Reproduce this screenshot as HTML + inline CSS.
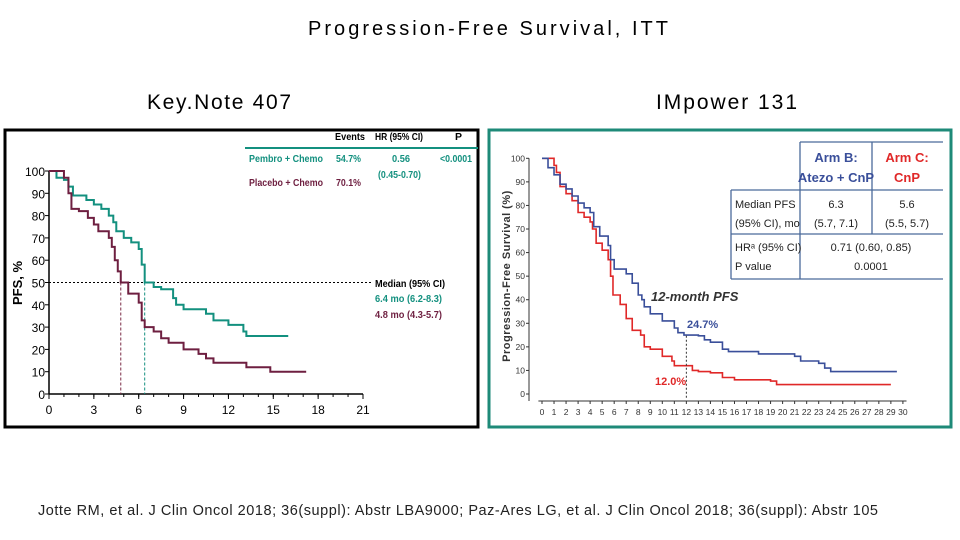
<!DOCTYPE html>
<html><head><meta charset="utf-8"><style>
body{margin:0;background:#fff;width:960px;height:540px;overflow:hidden;font-family:"Liberation Sans",sans-serif}
svg{position:absolute;left:0;top:0}
</style></head><body>
<svg width="960" height="540" viewBox="0 0 960 540" font-family="Liberation Sans, sans-serif">
<text x="308" y="35" font-size="20" textLength="360" lengthAdjust="spacing">Progression-Free Survival, ITT</text>
<text x="147" y="109" font-size="21" textLength="144" lengthAdjust="spacing">Key.Note 407</text>
<text x="656" y="109" font-size="21" textLength="141" lengthAdjust="spacing">IMpower 131</text>
<text x="38" y="515" font-size="14.5" fill="#222" textLength="840" lengthAdjust="spacing">Jotte RM, et al. J Clin Oncol 2018; 36(suppl): Abstr LBA9000; Paz-Ares LG, et al. J Clin Oncol 2018; 36(suppl): Abstr 105</text>

<rect x="5" y="130" width="473" height="297" fill="#fff" stroke="#000" stroke-width="3"/>
<rect x="489" y="130" width="462" height="297" fill="#fff" stroke="#1e8a78" stroke-width="3"/>
<g id="L"></g>
<g id="R"></g>
</svg>
<script>
// KEYNOTE 407 data
const kMonths1=[0,0.5,1,1.3,1.6,2.5,3,3.5,4,4.3,4.5,5,5.5,6,6.2,6.4,7,7.5,8.3,8.5,9,10,10.5,11,12,13,13.2,16];
const kPembro=[100,97,96,93,89,87,85,83,80,77,73,70,68,65,58,50,48,47,43,40,38,38,36,33,31,28,26,26];
const kMonths2=[0,1,1.3,1.5,2,2.6,3,3.3,4,4.2,4.4,4.6,4.8,5.3,6,6.2,6.4,7,7.5,8,9,10,10.5,11,13,13.2,14.8,17.2];
const kPlacebo=[100,97,90,83,82,79,76,73,70,66,60,55,50,45,41,33,30,28,25,23,20,18,16,14,14,12,10,10];
const kXTicks=[0,3,6,9,12,15,18,21];
const kYTicks=[0,10,20,30,40,50,60,70,80,90,100];
// IMpower 131 data
const iMonthsB=[0,0.5,1,1.5,2,2.5,3,3.5,4,4.3,4.8,5.5,5.7,6,7,7.5,8,8.3,8.5,9,10,11,11.3,11.8,13,13.5,14,15,15.5,18,21,21.5,23,23.5,24,29.5];
const iArmB=[100,96,93,89,87,84,81,79,77,71,67,63,57,53,51,47,42,40,37,34,31,28,26,25,24.7,23,22,19,18,17,16,14,13,11,9.5,9.5];
const iMonthsC=[0,1,1.2,1.5,2,2.5,3,3.5,4,4.2,4.5,5,5.5,5.7,5.9,6.5,7,7.5,8.2,8.5,9,10,10.8,11,12,12.5,13,14,15,16,19,19.5,29];
const iArmC=[100,97,94,88,85,82,77,75,73,70,64,61,57,50,42,38,32,27,25,20,19,16,14,12,12,10,9.5,9,7,6,5.5,4,4];
const iXTicks=[0,1,2,3,4,5,6,7,8,9,10,11,12,13,14,15,16,17,18,19,20,21,22,23,24,25,26,27,28,29,30];
const iYTicks=[0,10,20,30,40,50,60,70,80,90,100];

const NS="http://www.w3.org/2000/svg";
function mk(parent,tag,attrs,txt){const e=document.createElementNS(NS,tag);for(const k in attrs)e.setAttribute(k,attrs[k]);if(txt!==undefined)e.textContent=txt;parent.appendChild(e);return e;}
function stepPath(xs,ys,sx,sy){let d="M"+sx(xs[0])+","+sy(ys[0]);for(let i=1;i<xs.length;i++){d+="H"+sx(xs[i])+"V"+sy(ys[i]);}return d;}

// Left chart
const L=document.getElementById('L');
const lx=m=>49+m*(314/21), ly=v=>394-v*2.23;
let e;
e=mk(L,'line',{x1:lx(0),y1:ly(0),x2:lx(21),y2:ly(0),stroke:'#000','stroke-width':1.5});

e=mk(L,'line',{x1:lx(0),y1:ly(0),x2:lx(0),y2:ly(100),stroke:'#000','stroke-width':1.5});

kXTicks.forEach(t=>{e=mk(L,'text',{x:lx(t),y:ly(0)+20,'font-size':12,'text-anchor':'middle'},t);

mk(L,'line',{x1:lx(t),y1:ly(0),x2:lx(t),y2:ly(0)+5,stroke:'#000'});});
for(let m=1;m<21;m++)mk(L,'line',{x1:lx(m),y1:ly(0),x2:lx(m),y2:ly(0)+3,stroke:'#000'});
kYTicks.forEach(t=>{e=mk(L,'text',{x:lx(0)-4,y:ly(t)+5,'font-size':12,'text-anchor':'end'},t);

mk(L,'line',{x1:lx(0)-4,y1:ly(t),x2:lx(0),y2:ly(t),stroke:'#000'});});
e=mk(L,'text',{x:22,y:283,'font-size':13,'font-weight':'bold','text-anchor':'middle',transform:'rotate(-90 22 283)'},'PFS, %');

e=mk(L,'line',{x1:lx(0),y1:ly(50),x2:372,y2:ly(50),stroke:'#000','stroke-dasharray':'2,2'});

e=mk(L,'line',{x1:lx(4.8),y1:ly(50),x2:lx(4.8),y2:ly(0),stroke:'#7b2a45','stroke-dasharray':'3,2'});

e=mk(L,'line',{x1:lx(6.4),y1:ly(50),x2:lx(6.4),y2:ly(0),stroke:'#13907f','stroke-dasharray':'3,2'});

e=mk(L,'path',{d:stepPath(kMonths1,kPembro,lx,ly),fill:'none',stroke:'#13907f','stroke-width':2});

e=mk(L,'path',{d:stepPath(kMonths2,kPlacebo,lx,ly),fill:'none',stroke:'#6e1f40','stroke-width':2});

const lg=[['Events',335,140,'#000',30],['HR (95% CI)',375,140,'#000',48],['P',455,140,'#000',0],
['Pembro + Chemo',249,162,'#13907f',74],['54.7%',336,162,'#13907f',25],['0.56',392,162,'#13907f',18],['<0.0001',440,162,'#13907f',32],
['(0.45-0.70)',378,178,'#13907f',43],['Placebo + Chemo',249,186,'#6e1f40',74],['70.1%',336,186,'#6e1f40',25],
['Median (95% CI)',375,287,'#000',70],['6.4 mo (6.2-8.3)',375,302,'#13907f',67],['4.8 mo (4.3-5.7)',375,318,'#6e1f40',67]];
lg.forEach(a=>{const at={x:a[1],y:a[2],'font-size':10.5,'font-weight':'bold',fill:a[3]};if(a[4]){at.textLength=a[4];at.lengthAdjust='spacingAndGlyphs';}
e=mk(L,'text',at,a[0]);
});
e=mk(L,'line',{x1:245,y1:148,x2:478,y2:148,stroke:'#13907f','stroke-width':2});


// Right chart
const R=document.getElementById('R');
const rx=m=>542+m*12.03, ry=v=>394-v*2.357;
e=mk(R,'line',{x1:rx(-0.3),y1:ry(0)+7,x2:rx(30.3),y2:ry(0)+7,stroke:'#333'});

e=mk(R,'line',{x1:rx(0)-13,y1:ry(0)+7,x2:rx(0)-13,y2:ry(100),stroke:'#333'});

iXTicks.forEach(t=>{e=mk(R,'text',{x:rx(t),y:ry(0)+21,'font-size':8.5,'text-anchor':'middle',fill:'#333'},t);

mk(R,'line',{x1:rx(t),y1:ry(0)+7,x2:rx(t),y2:ry(0)+10,stroke:'#333'});});
iYTicks.forEach(t=>{e=mk(R,'text',{x:rx(0)-17,y:ry(t)+3,'font-size':8.5,'text-anchor':'end',fill:'#333'},t);

mk(R,'line',{x1:rx(0)-16,y1:ry(t),x2:rx(0)-13,y2:ry(t),stroke:'#333'});});
e=mk(R,'text',{x:510,y:276,'font-size':11,'font-weight':'bold','text-anchor':'middle',fill:'#333','letter-spacing':'0.5',transform:'rotate(-90 510 276)'},'Progression-Free Survival (%)');

e=mk(R,'path',{d:stepPath(iMonthsC,iArmC,rx,ry),fill:'none',stroke:'#e02828','stroke-width':1.6});

e=mk(R,'path',{d:stepPath(iMonthsB,iArmB,rx,ry),fill:'none',stroke:'#3a4f9a','stroke-width':1.6});

e=mk(R,'line',{x1:rx(12),y1:ry(24.7),x2:rx(12),y2:ry(0)+5,stroke:'#333','stroke-dasharray':'2,2'});

[['12-month PFS',651,301,'#333',13,'italic'],['24.7%',687,328,'#3a4f9a',11,'normal'],['12.0%',655,385,'#e02828',11,'normal']].forEach(a=>{
e=mk(R,'text',{x:a[1],y:a[2],'font-size':a[4],'font-weight':'bold','font-style':a[5],fill:a[3]},a[0]);
});
// table
const T=mk(R,'g',{});

mk(T,'rect',{x:731,y:190,width:212,height:89,fill:'#fff'});
[[800,142,943,142],[731,190,943,190],[731,234,943,234],[731,279,943,279],[731,190,731,279],[800,142,800,279],[872,142,872,234]].forEach(l=>
mk(T,'line',{x1:l[0],y1:l[1],x2:l[2],y2:l[3],stroke:'#4a6a9a','stroke-width':1.3}));
[['Arm B:',836,162,'#3a4f9a',13,'middle'],['Atezo + CnP',836,182,'#3a4f9a',13,'middle'],['Arm C:',907,162,'#e02828',13,'middle'],['CnP',907,182,'#e02828',13,'middle'],
['Median PFS',735,208,'#222',11,'start'],['(95% CI), mo',735,227,'#222',11,'start'],['6.3',836,208,'#222',11,'middle'],['(5.7, 7.1)',836,227,'#222',11,'middle'],
['5.6',907,208,'#222',11,'middle'],['(5.5, 5.7)',907,227,'#222',11,'middle'],['HR\u1d43 (95% CI)',735,251,'#222',11,'start'],['P value',735,270,'#222',11,'start'],
['0.71 (0.60, 0.85)',871,251,'#222',11,'middle'],['0.0001',871,270,'#222',11,'middle']].forEach(a=>{
e=mk(T,'text',{x:a[1],y:a[2],'font-size':a[4],'font-weight':a[4]>12?'bold':'normal',fill:a[3],'text-anchor':a[5]},a[0]);
});
</script>
</body></html>
